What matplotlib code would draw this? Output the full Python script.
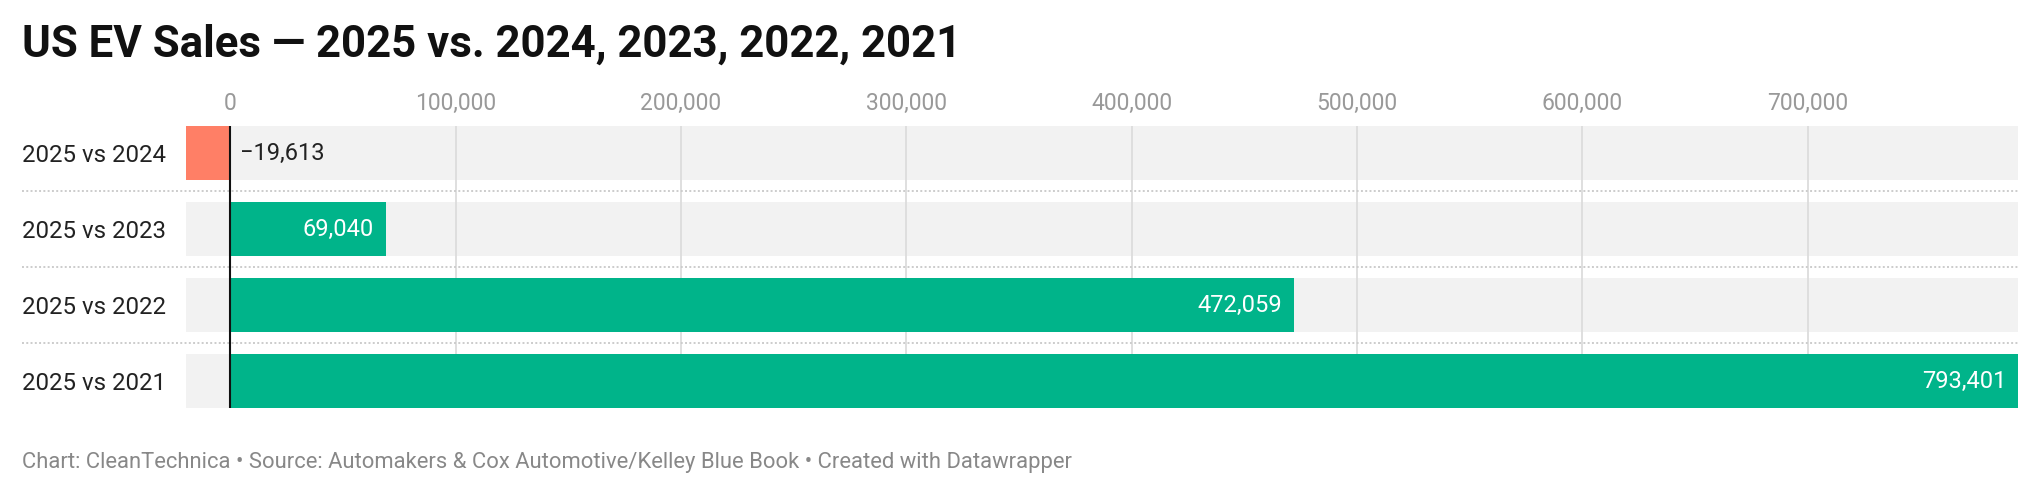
import matplotlib
matplotlib.use("Agg")
import matplotlib.pyplot as plt
import matplotlib.transforms as mtransforms
from matplotlib.ticker import FuncFormatter

# data
categories = ["2025 vs 2024", "2025 vs 2023", "2025 vs 2022", "2025 vs 2021"]
values = [-19613, 69040, 472059, 793401]
tick_values = [0, 100000, 200000, 300000, 400000, 500000, 600000, 700000]

title = "US EV Sales \u2014 2025 vs. 2024, 2023, 2022, 2021"
footer = ("Chart: CleanTechnica \u2022 Source: Automakers & Cox Automotive/Kelley Blue Book"
          " \u2022 Created with Datawrapper")

plt.rcParams['font.family'] = ['Roboto', 'DejaVu Sans']

W, H = 2040, 494
fig = plt.figure(figsize=(W / 100, H / 100), dpi=100)
fig.patch.set_facecolor("white")

# axes box in pixels: x 186..2018, y 126..408 (from top)
ax = fig.add_axes([186 / W, (H - 408) / H, (2018 - 186) / W, (408 - 126) / H])
ax.set_facecolor("white")

bar_h = 54 / 76
xmin, xmax = min(values), max(values)
ax.set_xlim(xmin, xmax)
ax.set_ylim(len(categories) - 1 + bar_h / 2, -bar_h / 2)

ypos = list(range(len(categories)))

# grey background bands
ax.barh(ypos, [xmax - xmin] * len(ypos), left=xmin, height=bar_h,
        color="#f2f2f2", zorder=0)

# gridlines
for t in tick_values[1:]:
    ax.axvline(t, color="#dcdcdc", lw=1.3, zorder=1)

colors = ["#ff7f66" if v < 0 else "#00b48a" for v in values]
ax.barh(ypos, values, height=bar_h, color=colors, zorder=2)

# zero line
ax.axvline(0, color="#111111", lw=1.5, zorder=3)

# dotted separators between rows
sep_tr = mtransforms.blended_transform_factory(ax.transAxes, ax.transData)
for i in range(len(categories) - 1):
    ax.plot([-164 / 1832, 1], [i + 0.5, i + 0.5], transform=sep_tr,
            color="#cccccc", lw=1.4, ls=(0, (1, 1.2)), clip_on=False, zorder=1)

# value labels
for y, v in zip(ypos, values):
    lbl = f"{v:,}".replace("-", "\u2212")
    if v < 0:
        ax.annotate(lbl, (0, y), xytext=(7, 0), textcoords="offset points",
                    ha="left", va="center", fontsize=17, color="#222222", zorder=4)
    else:
        ax.annotate(lbl, (v, y), xytext=(-8.5, 0), textcoords="offset points",
                    ha="right", va="center", fontsize=17, color="white", zorder=4)

# axes styling
for s in ax.spines.values():
    s.set_visible(False)
ax.xaxis.tick_top()
ax.set_xticks(tick_values)
ax.xaxis.set_major_formatter(FuncFormatter(lambda x, p: f"{int(x):,}"))
ax.tick_params(axis="x", length=0, pad=8, labelsize=16.5, labelcolor="#999999")
ax.set_yticks(ypos)
ax.set_yticklabels(categories)
ax.tick_params(axis="y", length=0, pad=118, labelsize=17.3, labelcolor="#222222")
for lab in ax.get_yticklabels():
    lab.set_horizontalalignment("left")

fig.text(22 / W, 1 - 45 / H, title, fontsize=31.5, fontweight="bold",
         color="#111111", ha="left", va="center")
fig.text(22 / W, 1 - 462 / H, footer, fontsize=15.8, color="#888888",
         ha="left", va="center")

fig.savefig("out.png", dpi=100, facecolor="white")
